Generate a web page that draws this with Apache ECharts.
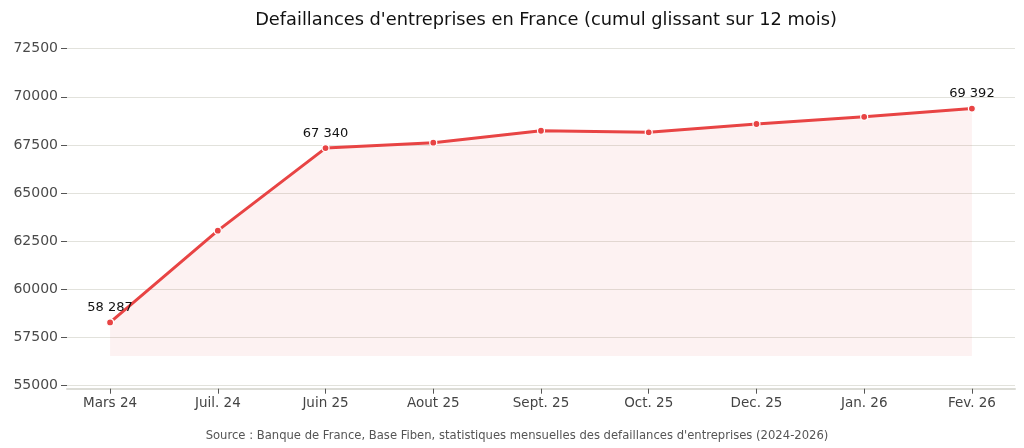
<!DOCTYPE html>
<html>
<head>
<meta charset="utf-8">
<script src="https://cdn.jsdelivr.net/npm/echarts@6/dist/echarts.min.js"></script>
<style>
  html, body { margin: 0; padding: 0; background: #fff; }
  #main { width: 1024px; height: 448px; }
</style>
</head>
<body>
<div id="main"></div>
<script>
// chart data
const categories = ['Mars 24', 'Juil. 24', 'Juin 25', 'Aout 25', 'Sept. 25', 'Oct. 25', 'Dec. 25', 'Jan. 26', 'Fev. 26']
const defaillances = [58287, 63050, 67340, 67620, 68240, 68160, 68590, 68960, 69392]
const labelledPoints = [0, 2, 8]
const yTicks = [55000, 57500, 60000, 62500, 65000, 67500, 70000, 72500]

const red = '#e84444'
const font = 'DejaVu Sans'

function fmt(v) {
    return String(v).replace(/\B(?=(\d{3})+(?!\d))/g, ' ')
}

const seriesData = defaillances.map((value, index) => {
    return {
        value: [index, value],
        label: { show: labelledPoints.indexOf(index) >= 0 }
    }
})

var myChart = echarts.init(document.getElementById('main'))

option = {
    animation: false,
    textStyle: { fontFamily: font },
    title: [
        {
            text: "Defaillances d'entreprises en France (cumul glissant sur 12 mois)",
            left: 541,
            top: 6,
            textAlign: 'center',
            textStyle: { fontFamily: font, fontSize: 17.8, fontWeight: 'normal', color: '#111' }
        },
        {
            text: "Source : Banque de France, Base Fiben, statistiques mensuelles des defaillances d'entreprises (2024-2026)",
            left: 512,
            top: 425,
            textAlign: 'center',
            textStyle: { fontFamily: font, fontSize: 11.6, fontWeight: 'normal', color: '#555' }
        }
    ],
    grid: { left: 67, right: 9, top: 48.7, bottom: 62.3 },
    xAxis: {
        type: 'value',
        min: -0.4,
        max: 8.4,
        offset: 3,
        splitLine: { show: false },
        axisLine: { show: true, onZero: false, lineStyle: { color: '#dcdcd6', width: 2 } },
        axisTick: {
            show: true,
            customValues: categories.map((c, i) => i),
            length: 5,
            lineStyle: { color: '#555' }
        },
        axisLabel: {
            customValues: categories.map((c, i) => i),
            formatter: v => categories[Math.round(v)],
            fontFamily: font,
            fontSize: 13.5,
            color: '#444',
            margin: 8
        }
    },
    yAxis: {
        type: 'value',
        min: yTicks[0],
        max: yTicks[yTicks.length - 1],
        interval: 2500,
        axisLine: { show: false, onZero: false },
        axisTick: { show: true, length: 6, lineStyle: { color: '#555' } },
        axisLabel: { fontFamily: font, fontSize: 14, color: '#4a4a4a', margin: 9, formatter: v => String(v) },
        splitLine: { show: true, lineStyle: { color: '#e2e2dc', width: 1 } }
    },
    series: [
        {
            type: 'line',
            data: seriesData,
            lineStyle: { color: red, width: 3 },
            itemStyle: { color: red, borderColor: '#fff', borderWidth: 1.2 },
            symbol: 'circle',
            symbolSize: 7,
            areaStyle: { color: 'rgba(232, 68, 68, 0.1)', origin: defaillances[0] * 0.97 },
            label: {
                position: 'top',
                distance: 4,
                formatter: p => fmt(p.value[1]),
                fontFamily: font,
                fontSize: 13,
                color: '#111'
            }
        }
    ]
}

myChart.setOption(option)
</script>
</body>
</html>
